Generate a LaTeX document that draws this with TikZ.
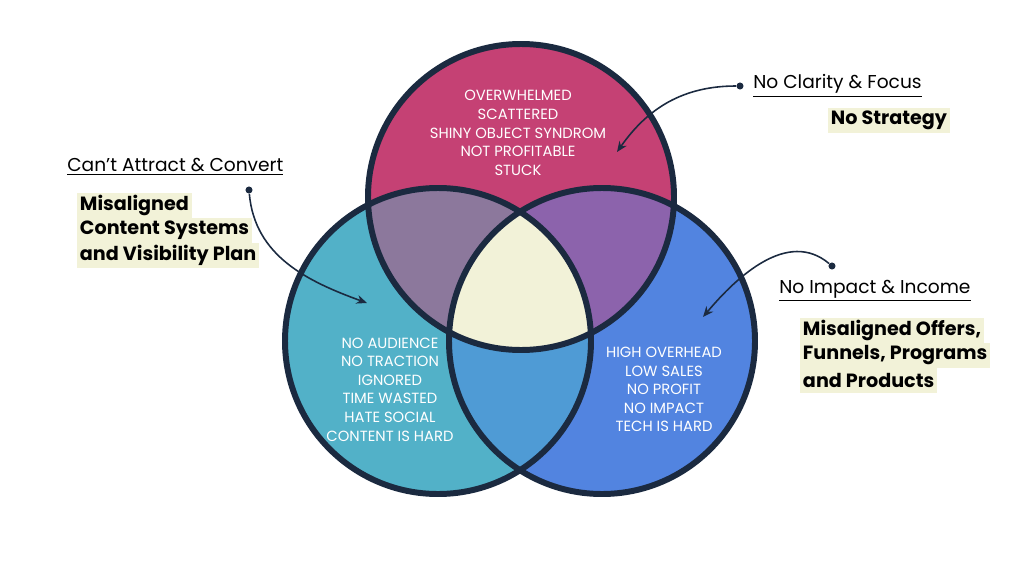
\documentclass[tikz,border=0pt]{standalone}
\usepackage{fontspec}
\setmainfont{Poppins}
\usetikzlibrary{arrows.meta}
\usetikzlibrary{positioning}

\definecolor{ringline}{HTML}{1B2A40}
\definecolor{topred}{HTML}{C54174}
\definecolor{leftteal}{HTML}{52B1C8}
\definecolor{rightblue}{HTML}{5284E0}
\definecolor{tlmix}{HTML}{8C789C}
\definecolor{trmix}{HTML}{8C63AC}
\definecolor{lrmix}{HTML}{4F9BD5}
\definecolor{cream}{HTML}{F2F2D8}

\tikzset{
  issue/.style={text=white,align=center,font=\fontsize{8.4}{10.6}\selectfont},
  tag/.style={anchor=west,inner sep=0pt,font=\fontsize{10.6}{12}\selectfont},
  fixline/.style={anchor=west,fill=cream,inner xsep=1.5pt,inner ysep=0pt,
    minimum height=14.2pt,font=\fontsize{10.9}{12}\selectfont\bfseries},
  pindot/.style={circle,fill=ringline,inner sep=0pt,minimum size=4pt},
  pin/.style={ringline,line width=0.9pt,-{Stealth[length=6pt,width=5pt]}},
}

\begin{document}
\begin{tikzpicture}[x=0.02cm,y=0.02cm]
\useasboundingbox (0,0) rectangle (1024,576);

% base discs
\fill[leftteal] (438,235) circle(153);
\fill[rightblue] (602,235) circle(153);
\fill[topred] (521,379) circle(153);

% overlaps
\begin{scope}
\clip (521,379) circle(153);
\fill[tlmix] (438,235) circle(153);
\fill[trmix] (602,235) circle(153);
\end{scope}
\begin{scope}
\clip (438,235) circle(153);
\fill[lrmix] (602,235) circle(153);
\clip (602,235) circle(153);
\fill[cream] (521,379) circle(153);
\end{scope}

% rings
\draw[ringline,line width=3.4pt] (438,235) circle(153);
\draw[ringline,line width=3.4pt] (602,235) circle(153);
\draw[ringline,line width=3.4pt] (521,379) circle(153);

\node[issue] (topIssues) at (518,443) {OVERWHELMED\\SCATTERED\\SHINY OBJECT SYNDROM\\NOT PROFITABLE\\STUCK};
\node[issue] (leftIssues) at (390,186.5) {NO AUDIENCE\\NO TRACTION\\IGNORED\\TIME WASTED\\HATE SOCIAL\\CONTENT IS HARD};
\node[issue] (rightIssues) at (664,186.5) {HIGH OVERHEAD\\LOW SALES\\NO PROFIT\\NO IMPACT\\TECH IS HARD};

% labels
\node[tag] (attractTag) at (67,409) {\underline{Can’t Attract \& Convert}};
\node[tag] (clarityTag) at (753,490) {\underline{No Clarity \& Focus}};
\node[tag] (impactTag) at (779,285) {\underline{No Impact \& Income}};

\node[fixline] (contentA) at (77,370.5) {Misaligned};
\node[fixline] (contentB) at (77,345.5) {Content Systems};
\node[fixline] (contentC) at (77,320.5) {and Visibility Plan};
\node[fixline] (strategyA) at (828,455.5) {No Strategy};
\node[fixline] (offersA) at (800,245.5) {Misaligned Offers,};
\node[fixline] (offersB) at (800,220.5) {Funnels, Programs};
\node[fixline] (offersC) at (800,195.5) {and Products};

% pointers
\node[pindot] (attractDot) at (249,386) {};
\node[pindot] (clarityDot) at (740,490) {};
\node[pindot] (impactDot) at (832,310) {};
\coordinate (attractTip) at (367,273);
\coordinate (clarityTip) at (617,424);
\coordinate (impactTip) at (703,259);

\draw[pin] (attractDot) to[out=-85,in=160] (attractTip);
\draw[pin] (clarityDot) to[out=180,in=55] (clarityTip);
\draw[pin] (impactDot) to[out=140,in=50] (impactTip);
\end{tikzpicture}
\end{document}
